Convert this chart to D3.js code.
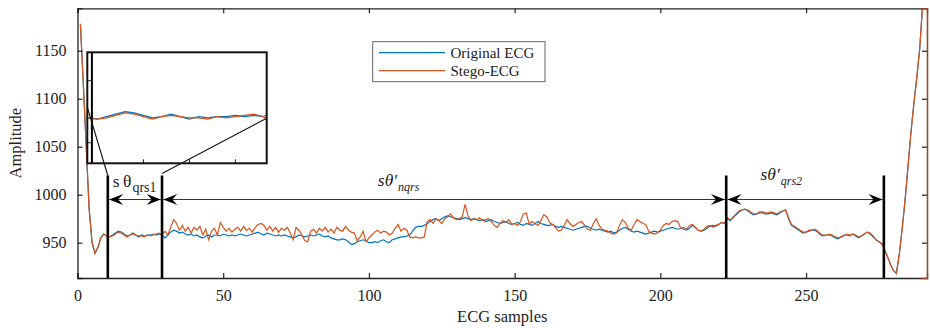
<!DOCTYPE html>
<html>
<head>
<meta charset="utf-8">
<script src="https://cdn.jsdelivr.net/npm/d3@7"></script>
<style>
  body { margin: 0; background: #fff; }
  svg text { font-family: "Liberation Serif", "Times New Roman", serif; fill: #222; }
</style>
</head>
<body>
<svg id="chart" width="930" height="328"></svg>
<script>
// original ECG, samples 1..291
const original = [
  1178,1115,1050,985,950,939,945,955,959,
  957,956,958,960,962,961,959,957,958,960,958,956,958,957,958,958,959,958,959,958,
  955,958,961,963,962,960,961,959,958,959,
  957,958,956,955,957,958,956,958,958,957,
  959,958,957,958,957,958,959,958,957,958,
  959,960,961,959,958,960,959,958,957,958,
  957,958,957,956,955,956,958,957,956,957,
  958,957,958,959,957,956,957,955,954,953,
  953,954,953,951,948,949,951,952,953,952,
  950,950,951,950,952,953,951,950,953,954,
  955,956,956,957,958,962,966,967,967,968,
  970,972,974,975,973,975,977,978,977,976,
  975,974,975,976,975,974,975,974,973,974,
  972,973,974,972,971,970,971,972,970,969,
  970,971,969,968,970,969,968,970,972,970,
  969,968,968,969,967,966,967,966,965,964,
  963,964,965,966,967,967,965,964,963,964,
  963,962,961,962,960,961,963,965,966,964,
  962,961,962,961,960,959,960,961,962,961,
  962,963,964,965,966,965,964,965,964,963,
  965,968,966,963,962,963,965,967,968,967,
  969,971,970,975,973,977,979,982,984,985,
  983,981,979,980,981,981,980,980,981,980,
  979,981,983,984,975,968,966,964,962,960,
  961,962,963,963,961,958,957,958,958,957,
  955,954,956,958,958,957,959,957,955,957,
  959,961,959,956,953,951,949,942,935,927,
  921,918,938,965,995,1030,1065,1095,1122,1152,1198,1240
];

// stego ECG, samples 1..291
const stego = [
  1178,1115,1050,985,950,939,945,955,959,
  957,956,957,959,961,960,958,956,958,959,958,957,957,956,958,957,958,959,960,958,
  962,958,966,974,970,963,968,962,966,960,
  966,963,967,958,964,953,962,965,958,971,
  966,962,965,961,964,966,962,967,963,965,
  961,966,969,970,968,963,967,962,966,961,
  965,963,966,960,953,966,963,958,952,951,
  962,964,960,965,962,966,961,964,960,966,
  963,962,967,963,961,960,952,956,962,951,
  955,958,961,963,960,962,961,958,960,965,
  969,962,965,963,956,955,956,955,955,956,
  972,974,970,975,973,970,975,977,980,976,
  974,975,977,990,978,973,975,974,976,973,
  974,975,972,968,966,970,973,971,974,969,
  970,968,972,980,981,969,972,970,968,973,
  979,977,971,969,966,962,963,968,974,970,
  967,969,971,972,968,964,963,970,975,968,
  964,963,962,960,959,960,968,974,971,965,
  963,969,974,972,970,969,962,960,959,960,
  963,968,970,969,972,973,972,965,966,964,
  968,969,966,963,962,964,967,968,966,968,
  969,971,970,976,974,976,980,983,984,985,
  984,982,980,980,982,982,981,981,982,981,
  980,982,983,984,976,969,967,965,963,961,
  961,963,963,964,962,959,958,958,959,958,
  956,955,956,957,959,958,959,958,956,957,
  959,961,960,957,953,951,949,942,935,927,
  921,918,938,965,995,1030,1065,1095,1122,1152,1198,1240
];

const samples = d3.range(1, original.length + 1);
const xTicks = [0, 50, 100, 150, 200, 250];
const yTicks = [950, 1000, 1050, 1100, 1150];
const boundaries = [10.4, 29, 222.6, 276.7];
const seriesNames = ["Original ECG", "Stego-ECG"];
const colors = ["#0072BD", "#D95319"];

const svg = d3.select("#chart");
const L = 77.5, R = 927, T = 8.3, B = 278;

const x = d3.scaleLinear().domain([0, 291.5]).range([L, R]);
const y = d3.scaleLinear().domain([913.2, 1194.2]).range([B, T]);

svg.append("clipPath").attr("id", "clip")
  .append("rect").attr("x", L).attr("y", T).attr("width", R - L).attr("height", B - T);

const line = d3.line().x((d, i) => x(samples[i])).y(d => y(d));

const plot = svg.append("g").attr("clip-path", "url(#clip)");
[original, stego].forEach((s, k) => {
  plot.append("path").datum(s)
    .attr("fill", "none").attr("stroke", colors[k]).attr("stroke-width", 1.2)
    .attr("d", line);
});

// axes, ticks inward
const xAxis = svg.append("g").attr("transform", `translate(0,${B})`)
  .call(d3.axisBottom(x).tickValues(xTicks).tickSize(-5).tickPadding(12).tickFormat(d3.format("d")));
const xTop = svg.append("g").attr("transform", `translate(0,${T})`)
  .call(d3.axisTop(x).tickValues(xTicks).tickSize(-5).tickFormat(""));
const yAxis = svg.append("g").attr("transform", `translate(${L},0)`)
  .call(d3.axisLeft(y).tickValues(yTicks).tickSize(-5).tickPadding(11).tickFormat(d3.format("d")));
const yRight = svg.append("g").attr("transform", `translate(${R},0)`)
  .call(d3.axisRight(y).tickValues(yTicks).tickSize(-5).tickFormat(""));
[xAxis, xTop, yAxis, yRight].forEach(g => {
  g.select(".domain").attr("stroke", "#222").attr("stroke-width", 1.3);
  g.selectAll(".tick line").attr("stroke", "#222").attr("stroke-width", 1.2);
  g.selectAll("text").style("font-size", "16px").attr("fill", "#222");
});
yRight.select(".domain").attr("stroke", "#9a4a26").attr("stroke-width", 1.6);

svg.append("text").attr("x", (L + R) / 2).attr("y", 322)
  .attr("text-anchor", "middle").style("font-size", "16.5px").text("ECG samples");
svg.append("text").attr("transform", `translate(21,${(T + B) / 2}) rotate(-90)`)
  .attr("text-anchor", "middle").style("font-size", "16.5px").text("Amplitude");

// segment boundaries
const lineTop = 1020;
svg.append("g").selectAll("line").data(boundaries).join("line")
  .attr("x1", d => x(d)).attr("x2", d => x(d))
  .attr("y1", y(lineTop)).attr("y2", B)
  .attr("stroke", "#000").attr("stroke-width", 2.6);

// double arrows
const defs = svg.append("defs");
defs.append("marker").attr("id", "head")
  .attr("markerUnits", "userSpaceOnUse")
  .attr("viewBox", "-15 -6 16 12").attr("refX", 0).attr("refY", 0)
  .attr("markerWidth", 16).attr("markerHeight", 12)
  .attr("orient", "auto-start-reverse")
  .append("path").attr("d", "M0,0 L-14,-5.5 L-9,0 L-14,5.5 Z").attr("fill", "#000");

const arrowY = 995;
const spans = d3.pairs(boundaries);
svg.append("g").selectAll("line").data(spans).join("line")
  .attr("x1", d => x(d[0]) + 1.3).attr("x2", d => x(d[1]) - 1.3)
  .attr("y1", y(arrowY)).attr("y2", y(arrowY))
  .attr("stroke", "#333").attr("stroke-width", 1.2)
  .attr("marker-start", "url(#head)").attr("marker-end", "url(#head)");

// span labels
const labels = [
  { x: 19.6, v: 1007.5, main: "s\u2009\u03b8", sub: "qrs1", italic: false },
  { x: 110.2, v: 1009, main: "s\u03b8\u2032", sub: "nqrs", italic: true },
  { x: 241.5, v: 1015.5, main: "s\u03b8\u2032", sub: "qrs2", italic: true }
];
labels.forEach(l => {
  const t = svg.append("text").attr("x", x(l.x)).attr("y", y(l.v))
    .attr("text-anchor", "middle")
    .style("font-style", l.italic ? "italic" : "normal");
  t.append("tspan").style("font-size", "17.5px").text(l.main);
  t.append("tspan").attr("dy", 5).attr("dx", 1)
    .style("font-size", l.italic ? "12px" : "14px").text(l.sub);
});

// legend
const lg = svg.append("g");
lg.append("rect").attr("x", 372.7).attr("y", 41.7).attr("width", 172.3).attr("height", 40)
  .attr("fill", "#fff").attr("stroke", "#555").attr("stroke-width", 0.9);
seriesNames.forEach((n, k) => {
  const ly = 52.7 + k * 18;
  lg.append("line").attr("x1", 379).attr("x2", 445).attr("y1", ly).attr("y2", ly)
    .attr("stroke", colors[k]).attr("stroke-width", 1.2);
  lg.append("text").attr("x", 450.5).attr("y", ly + 5).style("font-size", "15px").text(n);
});

// inset zoom of first segment
const iL = 87.3, iR = 266.7, iT = 52.3, iB = 163.3;
const ix = d3.scaleLinear().domain([9.9, 29.4]).range([iL, iR]);
const iy = d3.scaleLinear().domain([920.4, 1009.9]).range([iB, iT]);
const insetXTicks = [16, 21, 26];
const insetYTicks = [937, 987];

svg.append("clipPath").attr("id", "iclip")
  .append("rect").attr("x", iL).attr("y", iT).attr("width", iR - iL).attr("height", iB - iT);
const inset = svg.append("g");
inset.append("rect").attr("x", iL).attr("y", iT).attr("width", iR - iL).attr("height", iB - iT)
  .attr("fill", "#fff");
const iline = d3.line().x((d, i) => ix(samples[i])).y(d => iy(d));
const ig = inset.append("g").attr("clip-path", "url(#iclip)");
[original, stego].forEach((s, k) => {
  ig.append("path").datum(s).attr("fill", "none")
    .attr("stroke", colors[k]).attr("stroke-width", 1.2).attr("d", iline);
});
ig.append("line").attr("x1", ix(boundaries[0])).attr("x2", ix(boundaries[0]))
  .attr("y1", iT).attr("y2", iB).attr("stroke", "#000").attr("stroke-width", 2);
inset.selectAll(".ixt").data(insetXTicks).join("line")
  .attr("x1", d => ix(d)).attr("x2", d => ix(d)).attr("y1", iB).attr("y2", iB - 4)
  .attr("stroke", "#222");
inset.selectAll(".iyt").data(insetYTicks).join("line")
  .attr("x1", iL).attr("x2", iL + 4).attr("y1", d => iy(d)).attr("y2", d => iy(d))
  .attr("stroke", "#222");
inset.append("rect").attr("x", iL).attr("y", iT).attr("width", iR - iL).attr("height", iB - iT)
  .attr("fill", "none").attr("stroke", "#111").attr("stroke-width", 2);

// connector lines from segment to inset
const connectors = [
  { from: [boundaries[0], lineTop], to: [9.9, 965.6] },
  { from: [boundaries[1], lineTop + 2], to: [29.4, 956.8] }
];
svg.append("g").selectAll("line").data(connectors).join("line")
  .attr("x1", d => x(d.from[0])).attr("y1", d => y(d.from[1]))
  .attr("x2", d => ix(d.to[0])).attr("y2", d => iy(d.to[1]))
  .attr("stroke", "#111").attr("stroke-width", 1.1);
</script>
</body>
</html>
